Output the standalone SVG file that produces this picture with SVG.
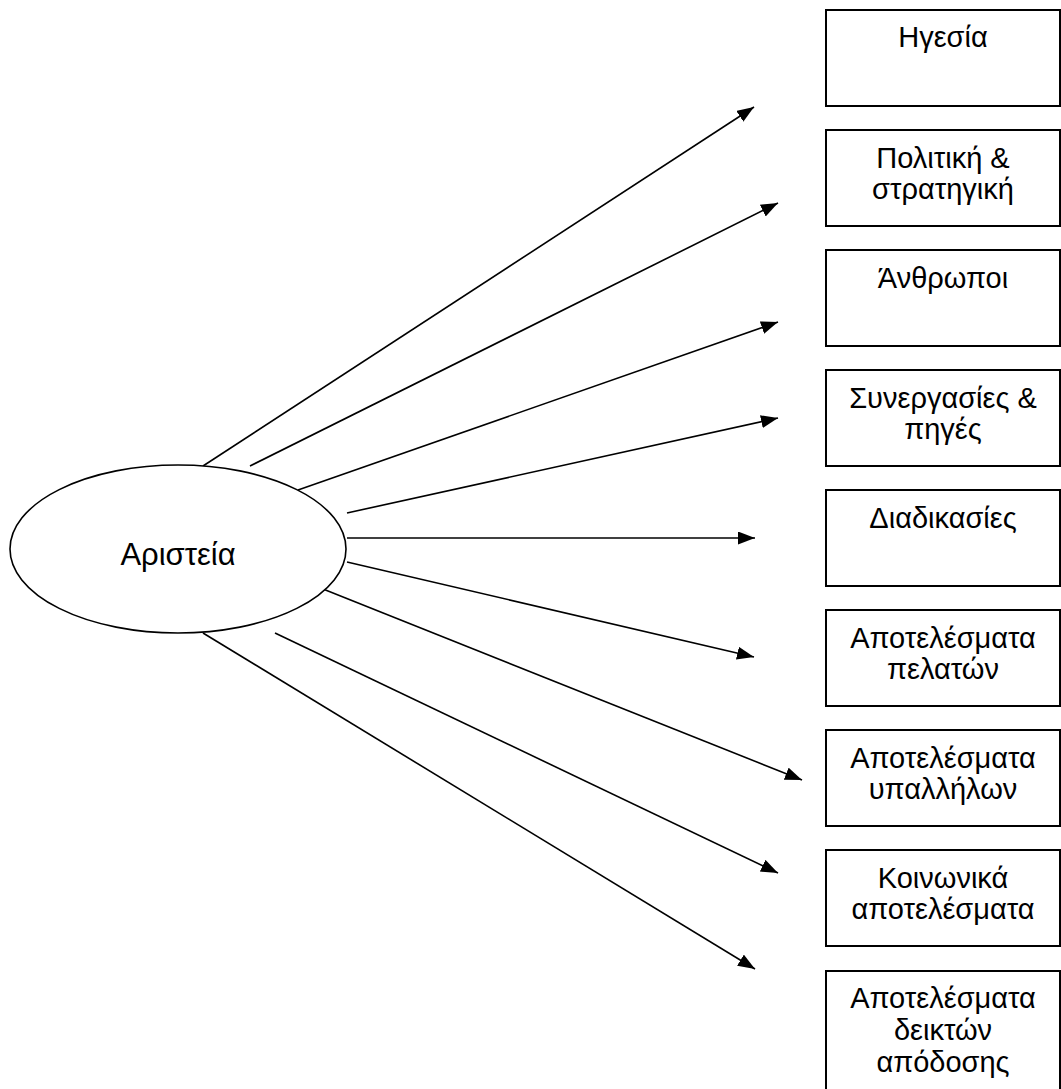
<svg xmlns="http://www.w3.org/2000/svg" width="1061" height="1089" viewBox="0 0 1061 1089">
<style>
.box{fill:#fff;stroke:#000;stroke-width:2}
.t{font-family:"Liberation Sans",Arial,sans-serif;font-size:29px;fill:#000;text-anchor:middle}
.c{stroke:#000;stroke-width:1.6;fill:none;marker-end:url(#ah)}
</style>
<defs>
<marker id="ah" markerUnits="userSpaceOnUse" markerWidth="19" markerHeight="15" refX="17" refY="6.5" orient="auto">
<path d="M0,0 L17,6.5 L0,13 Z" fill="#000"/>
</marker>
</defs>
<rect width="1061" height="1089" fill="#fff"/>
<g id="connectors">
<line class="c" x1="203" y1="466" x2="754" y2="107"/>
<line class="c" x1="250" y1="466" x2="778" y2="203"/>
<line class="c" x1="298" y1="490" x2="778" y2="322"/>
<line class="c" x1="347" y1="513" x2="778" y2="418"/>
<line class="c" x1="347" y1="538" x2="755" y2="538"/>
<line class="c" x1="347" y1="562" x2="754" y2="657"/>
<line class="c" x1="323" y1="589" x2="802" y2="780"/>
<line class="c" x1="275" y1="633" x2="778" y2="873"/>
<line class="c" x1="203" y1="633" x2="755" y2="969"/>
</g>
<g id="excellence">
<ellipse cx="178" cy="549" rx="168" ry="84" fill="#fff" stroke="#000" stroke-width="1.6"/>
<text class="t" x="178" y="565" style="font-size:31px">Αριστεία</text>
</g>
<g id="n1"><rect class="box" x="826" y="10" width="234" height="96"/><text class="t" x="943" y="47">Ηγεσία</text></g>
<g id="n2"><rect class="box" x="826" y="130" width="234" height="96"/><text class="t" x="943" y="168">Πολιτική &amp;</text><text class="t" x="943" y="199">στρατηγική</text></g>
<g id="n3"><rect class="box" x="826" y="250" width="234" height="96"/><text class="t" x="943" y="288">Άνθρωποι</text></g>
<g id="n4"><rect class="box" x="826" y="370" width="234" height="96"/><text class="t" x="943" y="408">Συνεργασίες &amp;</text><text class="t" x="943" y="439">πηγές</text></g>
<g id="n5"><rect class="box" x="826" y="490" width="234" height="96"/><text class="t" x="943" y="528">Διαδικασίες</text></g>
<g id="n6"><rect class="box" x="826" y="610" width="234" height="96"/><text class="t" x="943" y="648">Αποτελέσματα</text><text class="t" x="943" y="679">πελατών</text></g>
<g id="n7"><rect class="box" x="826" y="730" width="234" height="96"/><text class="t" x="943" y="768">Αποτελέσματα</text><text class="t" x="943" y="799">υπαλλήλων</text></g>
<g id="n8"><rect class="box" x="826" y="850" width="234" height="96"/><text class="t" x="943" y="888">Κοινωνικά</text><text class="t" x="943" y="919">αποτελέσματα</text></g>
<g id="n9"><rect class="box" x="826" y="971" width="234" height="130"/><text class="t" x="943" y="1008">Αποτελέσματα</text><text class="t" x="943" y="1040">δεικτών</text><text class="t" x="943" y="1072">απόδοσης</text></g>
</svg>
